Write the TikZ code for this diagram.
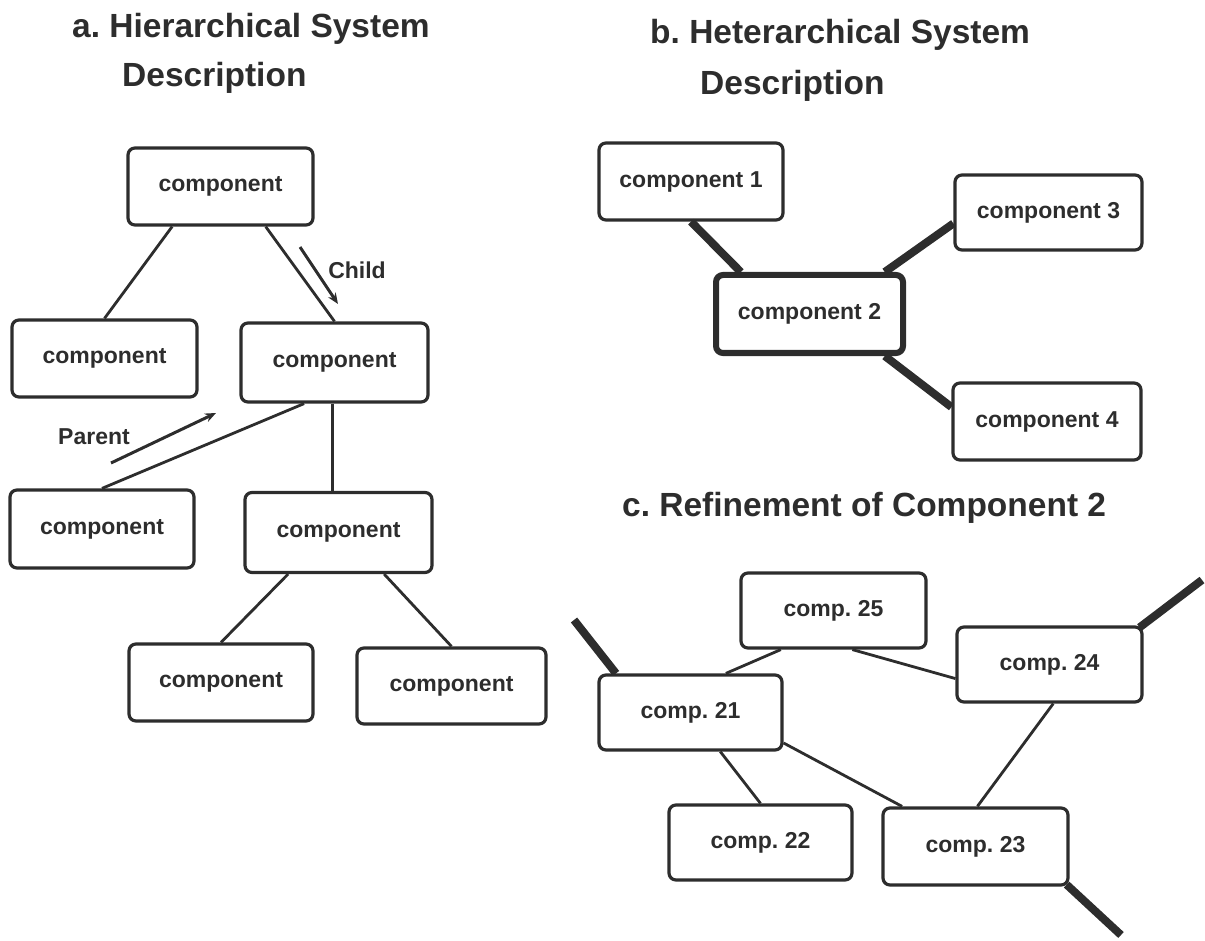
\documentclass[tikz,border=0pt]{standalone}
\usepackage{fontspec}
\setmainfont{Liberation Sans}
\usetikzlibrary{calc,arrows.meta}
\definecolor{ink}{RGB}{45,45,45}
\frenchspacing
\begin{document}
\begin{tikzpicture}[x=1pt,y=-1pt,
  box/.style={draw=ink, line width=3.2pt, rounded corners=7pt, inner sep=0pt,
    font=\fontsize{23}{26}\selectfont\bfseries, text=ink},
  bigbox/.style={box, line width=6pt},
  title/.style={anchor=base west, inner sep=0pt, font=\fontsize{33.5}{38}\selectfont\bfseries, text=ink},
  lbl/.style={inner sep=0pt, font=\fontsize{23}{26}\selectfont\bfseries, text=ink},
  conn/.style={draw=ink, line width=2.8pt},
  heavy/.style={draw=ink, line width=8pt},
  arr/.style={draw=ink, line width=3pt, -{Stealth[length=11pt,width=9pt]}}]

\useasboundingbox (0,0) rectangle (1205,941);

% ---------- titles ----------
\node[title] (ta1) at (72,38) {a. Hierarchical System};
\node[title] (ta2) at (122,87) {Description};
\node[title] (tb1) at (650,44) {b. Heterarchical System};
\node[title] (tb2) at (700,95) {Description};
\node[title] (tc) at (622,516) {c. Refinement of Component 2};

% ---------- panel a ----------
\node[box, minimum width=185pt, minimum height=77pt] (a1) at (220.5,186.5) {component};
\node[box, minimum width=185pt, minimum height=77pt] (a2) at (104.5,358.5) {component};
\node[box, minimum width=187pt, minimum height=79pt] (a3) at (334.5,362.5) {component};
\node[box, minimum width=184pt, minimum height=78pt] (a4) at (102,529) {component};
\node[box, minimum width=187pt, minimum height=80pt] (a5) at (338.5,532.5) {component};
\node[box, minimum width=184pt, minimum height=77pt] (a6) at (221,682.5) {component};
\node[box, minimum width=189pt, minimum height=76pt] (a7) at (451.5,686) {component};

\coordinate (a3v) at ($(a3.south west)!0.49!(a3.south east)$);
\draw[conn] ($(a1.south west)!0.243!(a1.south east)$) -- (a2.north);
\draw[conn] ($(a1.south west)!0.74!(a1.south east)$) -- (a3.north);
\draw[conn] ($(a3.south west)!0.34!(a3.south east)$) -- (a4.north);
\draw[conn] (a3v) -- (a3v |- a5.north);
\draw[conn] ($(a5.south west)!0.235!(a5.south east)$) -- (a6.north);
\draw[conn] ($(a5.south west)!0.74!(a5.south east)$) -- (a7.north);

\coordinate (ch1) at (300,247);
\coordinate (ch2) at (338,304);
\draw[arr] (ch1) -- (ch2);
\node[lbl] (chl) at (357,270) {Child};

\coordinate (pa1) at (111,463);
\coordinate (pa2) at (216,413);
\draw[arr] (pa1) -- (pa2);
\node[lbl] (pal) at (94,437) {Parent};

% ---------- panel b ----------
\node[box, minimum width=184pt, minimum height=77pt] (b1) at (691,181.5) {component 1};
\node[bigbox, minimum width=187pt, minimum height=78pt] (b2) at (809.5,314) {component 2};
\node[box, minimum width=187pt, minimum height=75pt] (b3) at (1048.5,212.5) {component 3};
\node[box, minimum width=188pt, minimum height=77pt] (b4) at (1047,421.5) {component 4};

\draw[heavy] (b1.south) -- ($(b2.north west)!0.144!(b2.north east)$);
\draw[heavy] ($(b2.north west)!0.89!(b2.north east)$) -- ($(b3.north west)!0.64!(b3.south west)$);
\draw[heavy] ($(b2.south west)!0.89!(b2.south east)$) -- ($(b4.north west)!0.32!(b4.south west)$);

% ---------- panel c ----------
\node[box, minimum width=185pt, minimum height=75pt] (c25) at (833.5,610.5) {comp. 25};
\node[box, minimum width=185pt, minimum height=75pt] (c24) at (1049.5,664.5) {comp. 24};
\node[box, minimum width=183pt, minimum height=75pt] (c21) at (690.5,712.5) {comp. 21};
\node[box, minimum width=183pt, minimum height=75pt] (c22) at (760.5,842.5) {comp. 22};
\node[box, minimum width=185pt, minimum height=77pt] (c23) at (975.5,846.5) {comp. 23};

\draw[conn] ($(c21.north west)!0.69!(c21.north east)$) -- ($(c25.south west)!0.22!(c25.south east)$);
\draw[conn] ($(c25.south west)!0.6!(c25.south east)$) -- ($(c24.north west)!0.68!(c24.south west)$);
\draw[conn] ($(c21.north east)!0.89!(c21.south east)$) -- ($(c23.north west)!0.11!(c23.north east)$);
\draw[conn] ($(c21.south west)!0.66!(c21.south east)$) -- (c22.north);
\draw[conn] ($(c24.south west)!0.52!(c24.south east)$) -- ($(c23.north west)!0.51!(c23.north east)$);

\coordinate (e21) at (574,620);
\coordinate (e24) at (1202,580);
\coordinate (e23) at (1121,935);
\draw[heavy] ($(c21.north west)!0.10!(c21.north east)$) -- (e21);
\draw[heavy] ($(c24.north east)+(-4,2)$) -- (e24);
\draw[heavy] ($(c23.south east)+(-3,-2)$) -- (e23);
\end{tikzpicture}
\end{document}
